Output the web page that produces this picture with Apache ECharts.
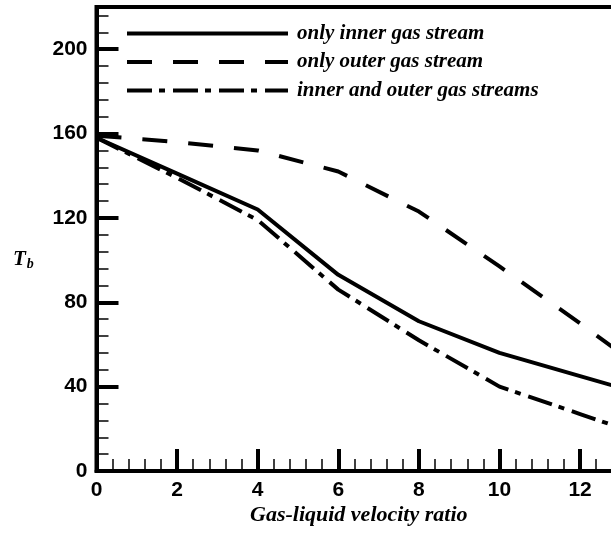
<!DOCTYPE html>
<html>
<head>
<meta charset="utf-8">
<script src="https://cdn.jsdelivr.net/npm/echarts@6/dist/echarts.min.js"></script>
<style>html,body{margin:0;padding:0;background:#fff}#c{width:611px;height:534px}</style>
</head>
<body>
<div id="c"></div>
<script>
const xValues = [0, 2, 4, 6, 8, 10, 12, 13];
const innerOnly = [158, 141, 124, 93, 71, 56, 45, 39.5];
const outerOnly = [159, 156, 152, 142, 123, 97, 70, 56];
const innerOuter = [158, 139, 119, 86, 62, 40, 27, 20.5];
const seriesNames = ['only inner gas stream', 'only outer gas stream', 'inner and outer gas streams'];
const yTickLabels = [0, 40, 80, 120, 160, 200];

const chart = echarts.init(document.getElementById('c'), null, {renderer: 'canvas'});
const pair = arr => xValues.map((x, i) => [x, arr[i]]);
const lineCommon = {type: 'line', symbol: 'none', showSymbol: false, smooth: false, xAxisIndex: 0, yAxisIndex: 0};
const serif = 'Liberation Serif';
const sans = 'Liberation Sans';

chart.setOption({
  animation: false,
  grid: {left: 96.5, top: 7, bottom: 63, right: -49.7, outerBoundsMode: 'none', containLabel: false,
    show: true, borderColor: '#000', borderWidth: 4, backgroundColor: '#fff'},
  legend: {
    orient: 'vertical', left: 125, top: 23, padding: 0, itemWidth: 161, itemHeight: 14, itemGap: 7.5,
    data: seriesNames,
    itemStyle: {opacity: 0},
    lineStyle: {width: 4},
    textStyle: {fontFamily: serif, fontStyle: 'italic', fontWeight: 'bold', fontSize: 21, lineHeight: 21, color: '#000', padding: [0, 0, 0, 4]}
  },
  xAxis: [{
    type: 'value', min: 0, max: 14, interval: 2,
    axisLine: {lineStyle: {color: '#000', width: 4}},
    axisTick: {inside: true, length: 22, lineStyle: {color: '#000', width: 4}},
    minorTick: {show: true, splitNumber: 5, length: 12, lineStyle: {color: '#000', width: 1.5}},
    splitLine: {show: false},
    axisLabel: {margin: 9, color: '#000', fontFamily: sans, fontWeight: 'bold', fontSize: 21}
  }],
  yAxis: [{
    type: 'value', min: 0, max: 220, interval: 40, position: 'left',
    axisLine: {lineStyle: {color: '#000', width: 4}},
    axisTick: {inside: true, length: 22, lineStyle: {color: '#000', width: 4}},
    splitLine: {show: false},
    axisLabel: {margin: 9, color: '#000', fontFamily: sans, fontWeight: 'bold', fontSize: 21,
      formatter: v => yTickLabels.indexOf(v) >= 0 ? String(v) : ''}
  }, {
    type: 'value', min: 0, max: 220, interval: 8, position: 'left', offset: 0,
    axisLine: {show: false},
    axisTick: {inside: true, length: 12, lineStyle: {color: '#000', width: 1.5}},
    splitLine: {show: false},
    axisLabel: {show: false}
  }],
  graphic: [
    {type: 'text', left: 250, top: 504, style: {text: 'Gas-liquid velocity ratio', font: 'italic bold 22px "Liberation Serif"', fill: '#000'}},
    {type: 'text', left: 13, top: 249, style: {
      text: '{t|T}{b|b}', fill: '#000',
      rich: {t: {font: 'italic bold 21px "Liberation Serif"', fill: '#000'}, b: {font: 'italic bold 14px "Liberation Serif"', fill: '#000', verticalAlign: 'bottom', padding: [10, 0, 0, 1]}}
    }}
  ],
  series: [
    Object.assign({}, lineCommon, {name: seriesNames[0], data: pair(innerOnly), lineStyle: {color: '#000', width: 4, type: 'solid'}, itemStyle: {color: '#000'}}),
    Object.assign({}, lineCommon, {name: seriesNames[1], data: pair(outerOnly), lineStyle: {color: '#000', width: 4, type: [25, 21]}, itemStyle: {color: '#000'}}),
    Object.assign({}, lineCommon, {name: seriesNames[2], data: pair(innerOuter), lineStyle: {color: '#000', width: 4, type: [25, 7, 6, 8]}, itemStyle: {color: '#000'}})
  ]
});
</script>
</body>
</html>
